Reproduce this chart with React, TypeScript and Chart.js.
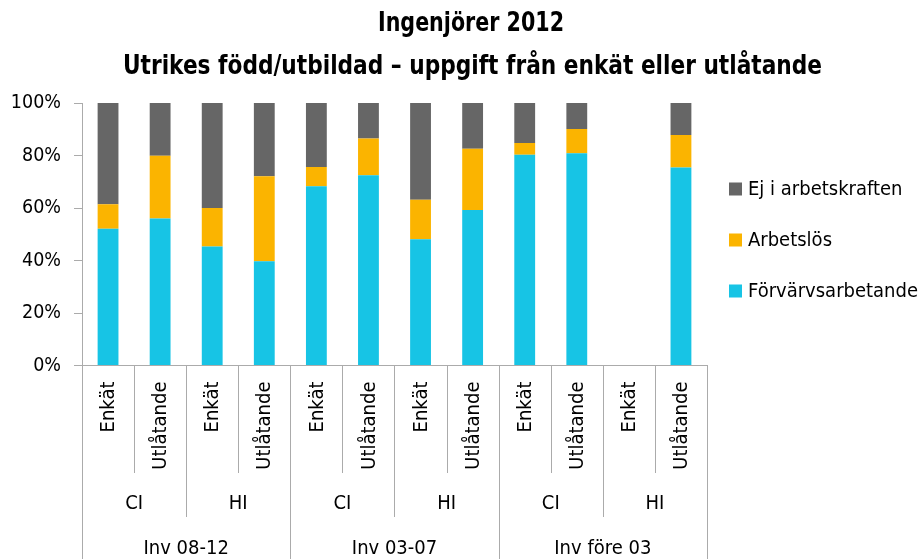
import { useEffect, useRef } from "react";
import { Chart, registerables } from "chart.js";

Chart.register(...registerables);

const titleLines = ["Ingenjörer 2012", "Utrikes född/utbildad – uppgift från enkät eller utlåtande"];
const categories = ["Enkät", "Utlåtande", "Enkät", "Utlåtande", "Enkät", "Utlåtande", "Enkät", "Utlåtande", "Enkät", "Utlåtande", "Enkät", "Utlåtande"];
const institutes = ["CI", "HI", "CI", "HI", "CI", "HI"];
const periods = ["Inv 08-12", "Inv 03-07", "Inv före 03"];
const seriesNames = ["Förvärvsarbetande", "Arbetslös", "Ej i arbetskraften"];
const seriesColors = ["#17C4E5", "#FBB400", "#666666"];
const forvarvsarbetande = [52.1, 56.0, 45.3, 39.7, 68.3, 72.5, 48.1, 59.2, 80.3, 80.9, null, 75.4];
const arbetslos = [9.3, 23.9, 14.7, 32.4, 7.3, 14.0, 15.0, 23.4, 4.5, 9.2, null, 12.4];
const ejIArbetskraften = [38.6, 20.1, 40.0, 27.9, 24.4, 13.5, 36.9, 17.4, 15.2, 9.9, null, 12.2];
const yTicks = [0, 20, 40, 60, 80, 100];

const FONT = "'DejaVu Sans Condensed', 'DejaVu Sans', sans-serif";
const LINE = "#ABABAB";

const decorPlugin = {
  id: "decor",
  afterDraw(chart: any) {
    const ctx = chart.ctx as CanvasRenderingContext2D;
    const x = chart.scales.x;
    const area = chart.chartArea;
    const H = chart.height;
    ctx.save();
    // Title
    ctx.fillStyle = "#000";
    ctx.textAlign = "center";
    ctx.textBaseline = "alphabetic";
    ctx.font = `bold 26px ${FONT}`;
    ctx.fillText(titleLines[0], 471, 31, 186);
    ctx.fillText(titleLines[1], 472.5, 74, 699);

    // Legend (reversed order)
    ctx.font = `20px ${FONT}`;
    ctx.textAlign = "left";
    ctx.textBaseline = "middle";
    const order = [2, 1, 0];
    order.forEach((di, k) => {
      const ds = chart.data.datasets[di];
      const cy = 189 + k * 51;
      ctx.fillStyle = ds.backgroundColor;
      ctx.fillRect(729, cy - 6.5, 13, 13);
      ctx.fillStyle = "#000";
      ctx.fillText(ds.label, 748, cy + 1, 170);
    });

    // Multi-level category axis
    const step = x.getPixelForValue(1) - x.getPixelForValue(0);
    const bnd = (i: number) => x.getPixelForValue(i) - step / 2;
    const axisY = area.bottom;
    ctx.strokeStyle = LINE;
    ctx.lineWidth = 1;
    for (let i = 0; i <= categories.length; i++) {
      let end = 473;
      if (i % 4 === 0) end = H;
      else if (i % 2 === 0) end = 517;
      const bx = Math.round(bnd(i)) + 0.5;
      ctx.beginPath();
      ctx.moveTo(bx, axisY);
      ctx.lineTo(bx, end);
      ctx.stroke();
    }
    ctx.fillStyle = "#000";
    ctx.font = `20px ${FONT}`;
    categories.forEach((c, i) => {
      const cx = x.getPixelForValue(i);
      ctx.save();
      ctx.translate(cx + 1, axisY + 16);
      ctx.rotate(-Math.PI / 2);
      ctx.textAlign = "right";
      ctx.textBaseline = "middle";
      ctx.fillText(c, 0, 0);
      ctx.restore();
    });
    ctx.textAlign = "center";
    ctx.textBaseline = "middle";
    institutes.forEach((t, g) => {
      const cx = (bnd(g * 2) + bnd(g * 2 + 2)) / 2;
      ctx.fillText(t, cx, 504);
    });
    periods.forEach((t, p) => {
      const cx = (bnd(p * 4) + bnd(p * 4 + 4)) / 2;
      ctx.fillText(t, cx, 549);
    });
    ctx.restore();
  },
};

export default function App() {
  const ref = useRef<HTMLCanvasElement>(null);
  useEffect(() => {
    if (!ref.current) return;
    const chart = new Chart(ref.current, {
      type: "bar",
      data: {
        labels: categories,
        datasets: [
          { label: seriesNames[0], data: forvarvsarbetande, backgroundColor: seriesColors[0] },
          { label: seriesNames[1], data: arbetslos, backgroundColor: seriesColors[1] },
          { label: seriesNames[2], data: ejIArbetskraften, backgroundColor: seriesColors[2] },
        ] as any,
      },
      options: {
        animation: false,
        responsive: false,
        devicePixelRatio: 1,
        layout: { padding: { top: 103, right: 213, left: 0, bottom: 0 } },
        datasets: { bar: { barPercentage: 0.4, categoryPercentage: 1 } },
        plugins: {
          legend: { display: false },
          title: { display: false },
          tooltip: { enabled: false },
        },
        scales: {
          x: {
            stacked: true,
            ticks: { display: false },
            grid: { display: false, drawTicks: false },
            border: { display: true, color: LINE },
            afterFit: (s: any) => {
              s.height = 193.5;
            },
          },
          y: {
            stacked: true,
            min: 0,
            max: 100,
            afterBuildTicks: (s: any) => {
              s.ticks = yTicks.map((v) => ({ value: v }));
            },
            ticks: {
              padding: 13,
              color: "#000",
              font: { family: FONT, size: 19.5 },
              callback: (v: any) => `${v}%`,
            },
            grid: { drawOnChartArea: false, drawTicks: true, tickLength: 8, color: LINE },
            border: { display: true, color: LINE },
            afterFit: (s: any) => {
              s.width = 82;
            },
          },
        },
      },
      plugins: [decorPlugin],
    });
    return () => chart.destroy();
  }, []);
  return (
    <div style={{ position: "absolute", left: 0, top: 0, width: 920, height: 559, background: "#fff" }}>
      <canvas ref={ref} width={920} height={559} />
    </div>
  );
}
